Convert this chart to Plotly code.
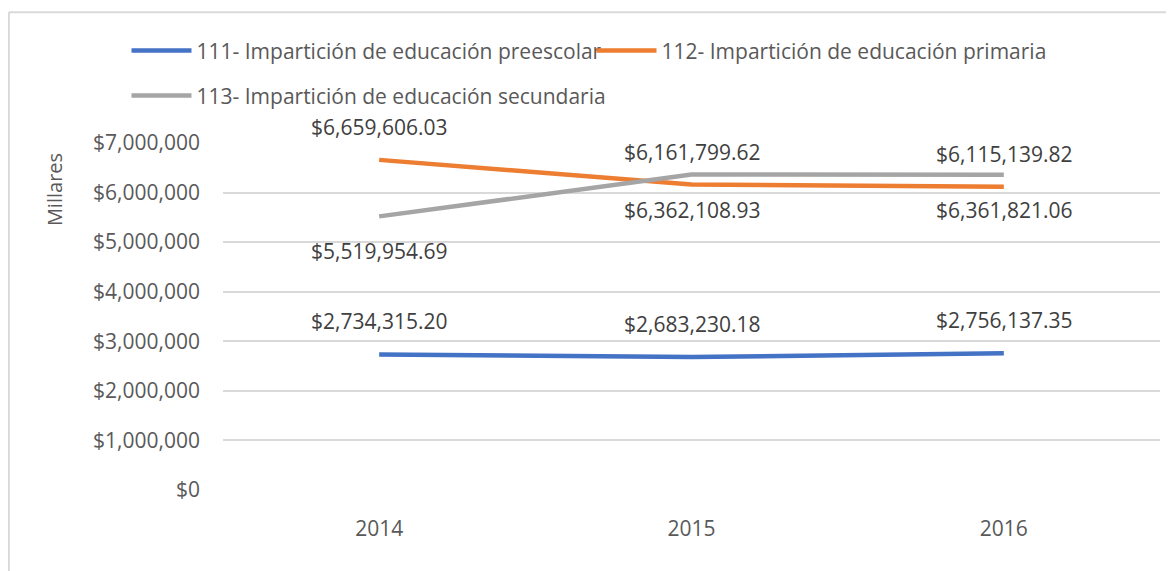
import plotly.graph_objects as go

years = ["2014", "2015", "2016"]
preescolar = [2734315.20, 2683230.18, 2756137.35]
primaria = [6659606.03, 6161799.62, 6115139.82]
secundaria = [5519954.69, 6362108.93, 6361821.06]

names = [
    "111- Impartición de educación preescolar",
    "112- Impartición de educación primaria",
    "113- Impartición de educación secundaria",
]
colors = ["#4472C4", "#ED7D31", "#A5A5A5"]
series = [preescolar, primaria, secundaria]
label_shift = [33, 33, -35]   # label above (+) or below (-) the point
legends = ["legend", "legend", "legend2"]

FONT = "Open Sans"
FS = 21
TXT = "#595959"

fig = go.Figure()
for name, vals, col, lg in zip(names, series, colors, legends):
    fig.add_trace(go.Scatter(
        x=years, y=vals, name=name, mode="lines",
        line=dict(color=col, width=4.5),
        legend=lg,
    ))

# data labels
for vals, shift in zip(series, label_shift):
    for i, v in enumerate(vals):
        fig.add_annotation(
            x=i, y=v, xref="x", yref="y", text=f"${v:,.2f}", showarrow=False,
            yshift=shift, xanchor="center", yanchor="middle",
            font=dict(family=FONT, size=FS, color="#404040"),
        )

# y axis title, placed like the original
fig.add_annotation(
    xref="paper", yref="paper", x=-0.179, y=0.865, text="Millares",
    textangle=-90, showarrow=False, xanchor="center", yanchor="middle",
    font=dict(family=FONT, size=FS - 1, color=TXT),
)

# outer chart border (only left and top edges are in view)
fig.add_shape(type="line", xref="paper", yref="paper",
              x0=-0.2285, x1=-0.2285, y0=-0.5, y1=1.377,
              line=dict(color="#D9D9D9", width=2))
fig.add_shape(type="line", xref="paper", yref="paper",
              x0=-0.2285, x1=1.2, y0=1.377, y1=1.377,
              line=dict(color="#D9D9D9", width=2))

# page body has an 8px margin, so the figure is drawn 8px smaller
fig.update_layout(
    width=1166, height=563,
    margin=dict(l=215, r=14, t=135, b=81),
    paper_bgcolor="white", plot_bgcolor="white",
    font=dict(family=FONT, size=FS, color=TXT),
    showlegend=True,
    legend=dict(
        orientation="h", x=-0.103, y=1.325, xanchor="left", yanchor="top",
        font=dict(family=FONT, size=FS, color=TXT),
        entrywidth=390, entrywidthmode="pixels",
        itemwidth=60, bgcolor="rgba(0,0,0,0)",
    ),
    legend2=dict(
        orientation="h", x=-0.103, y=1.195, xanchor="left", yanchor="top",
        font=dict(family=FONT, size=FS, color=TXT),
        itemwidth=60, bgcolor="rgba(0,0,0,0)",
    ),
    xaxis=dict(
        type="category", range=[-0.5, 2.5], showgrid=False, showline=False,
        ticks="", ticklabelstandoff=24,
        tickfont=dict(family=FONT, size=FS, color=TXT),
    ),
    yaxis=dict(
        range=[0, 7000000], dtick=1000000, tickprefix="$", tickformat=",",
        showgrid=True, gridcolor="#D9D9D9", gridwidth=1.5, zeroline=False,
        showline=False, ticks="", ticklabelstandoff=22,
        tickfont=dict(family=FONT, size=FS, color=TXT),
    ),
)

fig.write_html("out.html")
